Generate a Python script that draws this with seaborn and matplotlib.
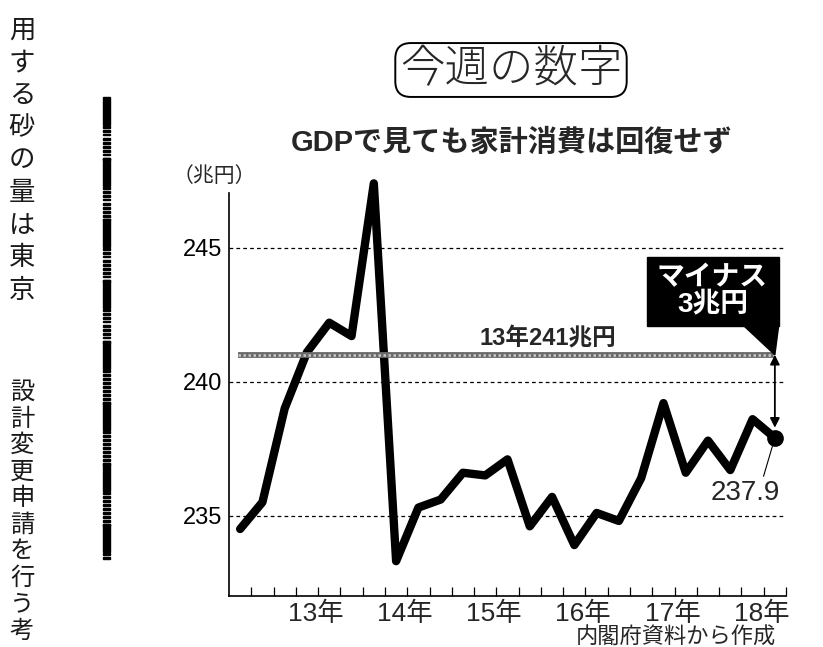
import matplotlib
matplotlib.use("Agg")
import matplotlib.pyplot as plt
from matplotlib.patches import Rectangle, Polygon
import numpy as np
import seaborn as sns

# quarterly household consumption (real, trillion yen), 2012 Q3 .. 2018 Q3
quarters = ["12Q3", "12Q4",
            "13Q1", "13Q2", "13Q3", "13Q4",
            "14Q1", "14Q2", "14Q3", "14Q4",
            "15Q1", "15Q2", "15Q3", "15Q4",
            "16Q1", "16Q2", "16Q3", "16Q4",
            "17Q1", "17Q2", "17Q3", "17Q4",
            "18Q1", "18Q2", "18Q3"]
consumption = [234.5, 235.5, 239.0, 241.1, 242.2, 241.7,
               247.4, 233.3, 235.3, 235.6, 236.6, 236.5,
               237.1, 234.6, 235.7, 233.9, 235.1, 234.8,
               236.4, 239.2, 236.6, 237.8, 236.7, 238.6, 237.9]
year_labels = ["13年", "14年", "15年", "16年", "17年", "18年"]
yticks = [235, 240, 245]
base_2013 = 241
gap_label = "マイナス\n3兆円"

left_col1 = "用する砂の量は東京"
left_col2 = "設計変更申請を行う考"

sns.set_theme(style="white")
plt.rcParams["font.family"] = ["Liberation Sans", "Noto Sans CJK JP", "DejaVu Sans"]
CJK = ["Noto Sans CJK JP", "DejaVu Sans"]

fig = plt.figure(figsize=(8.23, 6.47), dpi=100)
ax = fig.add_axes([229 / 823, 1 - 596 / 647, 557 / 823, 418 / 647])

idx = np.arange(len(consumption))
sns.lineplot(x=idx, y=consumption, ax=ax, color="black", linewidth=6)
ax.lines[0].set_solid_joinstyle("round")
ax.lines[0].set_solid_capstyle("round")
ax.plot(idx[-1], consumption[-1], "o", color="black", markersize=11, zorder=5)

ax.set_xlim(-0.5, len(consumption) - 0.5)
ax.set_ylim(232.0, 247.6)

# dashed grid lines
for y in yticks:
    ax.axhline(y, color="black", lw=0.9, ls=(0, (3, 2.5)), zorder=1)

# 2013 average line
ax.hlines(base_2013, idx[0] - 0.1, idx[-1], color="#6a6a6a", lw=4.2, zorder=2)
ax.hlines(base_2013, idx[0] - 0.1, idx[-1], color="#c8c8c8", lw=1.8,
          ls=(0, (1, 1)), zorder=2)
ax.text(13.83, base_2013 + 0.18, f"13年{base_2013}兆円", ha="center", va="bottom",
        fontsize=17, fontweight="bold")

# gap arrow
ax.annotate("", xy=(idx[-1], base_2013), xytext=(idx[-1], consumption[-1] + 0.38),
            arrowprops=dict(arrowstyle="<|-|>", lw=1.3, color="black",
                            mutation_scale=14, shrinkA=0, shrinkB=0))

# callout box
bx0, by0 = idx[-1] - 5.73, base_2013 + 1.09
ax.add_patch(Rectangle((bx0, by0), 5.9, 2.57, color="black", zorder=6))
ax.add_patch(Polygon([(idx[-1] - 1.4, by0), (idx[-1] + 0.17, by0),
                      (idx[-1], base_2013)], closed=True, color="black", zorder=6))
ax.text(idx[-1] - 2.8, by0 + 1.28, gap_label, ha="center", va="center",
        color="white", fontsize=20, fontweight="bold", linespacing=1.05, zorder=7)

# last value label
ax.annotate(f"{consumption[-1]}", xy=(idx[-1], consumption[-1]),
            xytext=(22.67, 235.86), ha="center", va="center", fontsize=20,
            arrowprops=dict(arrowstyle="-", lw=0.8, color="black",
                            relpos=(0.75, 1.0), shrinkA=0, shrinkB=6))

# axes styling
sns.despine(ax=ax, top=True, right=True)
ax.spines["left"].set_bounds(232.0, 247.05)
for s in ["left", "bottom"]:
    ax.spines[s].set_color("black")
    ax.spines[s].set_linewidth(1.2)

ax.set_yticks(yticks)
ax.set_yticklabels([str(v) for v in yticks], fontsize=17)
ax.tick_params(axis="y", length=0, pad=5, colors="black")

year_starts = np.arange(1.5, len(consumption), 4)
ax.set_xticks(year_starts)
ax.set_xticklabels([])
ax.set_xticks(np.arange(0.5, len(consumption), 1), minor=True)
ax.xaxis.remove_overlapping_locs = False
ax.tick_params(axis="x", which="major", direction="out", length=18, width=0.9,
               color="black")
ax.tick_params(axis="x", which="minor", direction="in", length=6.5, width=0.9,
               color="black", bottom=True)
for x0, lab in zip(year_starts, year_labels):
    ax.text(x0 + 0.65, -0.043, lab, transform=ax.get_xaxis_transform(),
            ha="left", va="center", fontsize=19)
ax.set_xlabel("")
ax.set_ylabel("")
ax.grid(False)

# figure texts
fig.text(511 / 823, 1 - 70 / 647, "今週の数字", ha="center", va="center",
         fontsize=32, fontweight="light", family=CJK,
         bbox=dict(boxstyle="round,pad=0.1,rounding_size=0.35", fc="white",
                   ec="black", lw=1.4))
fig.text(512 / 823, 1 - 143 / 647, "GDPで見ても家計消費は回復せず",
         ha="center", va="center", fontsize=21, fontweight="bold")
fig.text(214 / 823, 1 - 176 / 647, "（兆円）", ha="center", va="center",
         fontsize=15, family=CJK)
fig.text(776 / 823, 1 - 637 / 647, "内閣府資料から作成", ha="right",
         va="center", fontsize=16, family=CJK)

# bleed-through newspaper column on the left
for i, ch in enumerate(left_col1):
    fig.text(22 / 823, 1 - (30 + i * 32.5) / 647, ch, ha="center", va="center",
             fontsize=19, color="#1a1a1a", family=CJK)
for i, ch in enumerate(left_col2):
    fig.text(22 / 823, 1 - (392 + i * 26.5) / 647, ch, ha="center", va="center",
             fontsize=17.5, color="#1a1a1a", family=CJK)

# striped vertical rule
y = 97.0
while y < 560:
    fig.add_artist(Rectangle((103 / 823, 1 - min(y + 28, 560) / 647), 7 / 823,
                             (min(y + 28, 560) - y) / 647, color="black",
                             transform=fig.transFigure))
    sy = y + 28
    while sy < min(y + 61, 560):
        fig.add_artist(Rectangle((103 / 823, 1 - (sy + 2.5) / 647), 7 / 823,
                                 1.6 / 647, color="black",
                                 transform=fig.transFigure))
        sy += 4
    y += 61

fig.savefig("out.png", dpi=100, facecolor="white")
